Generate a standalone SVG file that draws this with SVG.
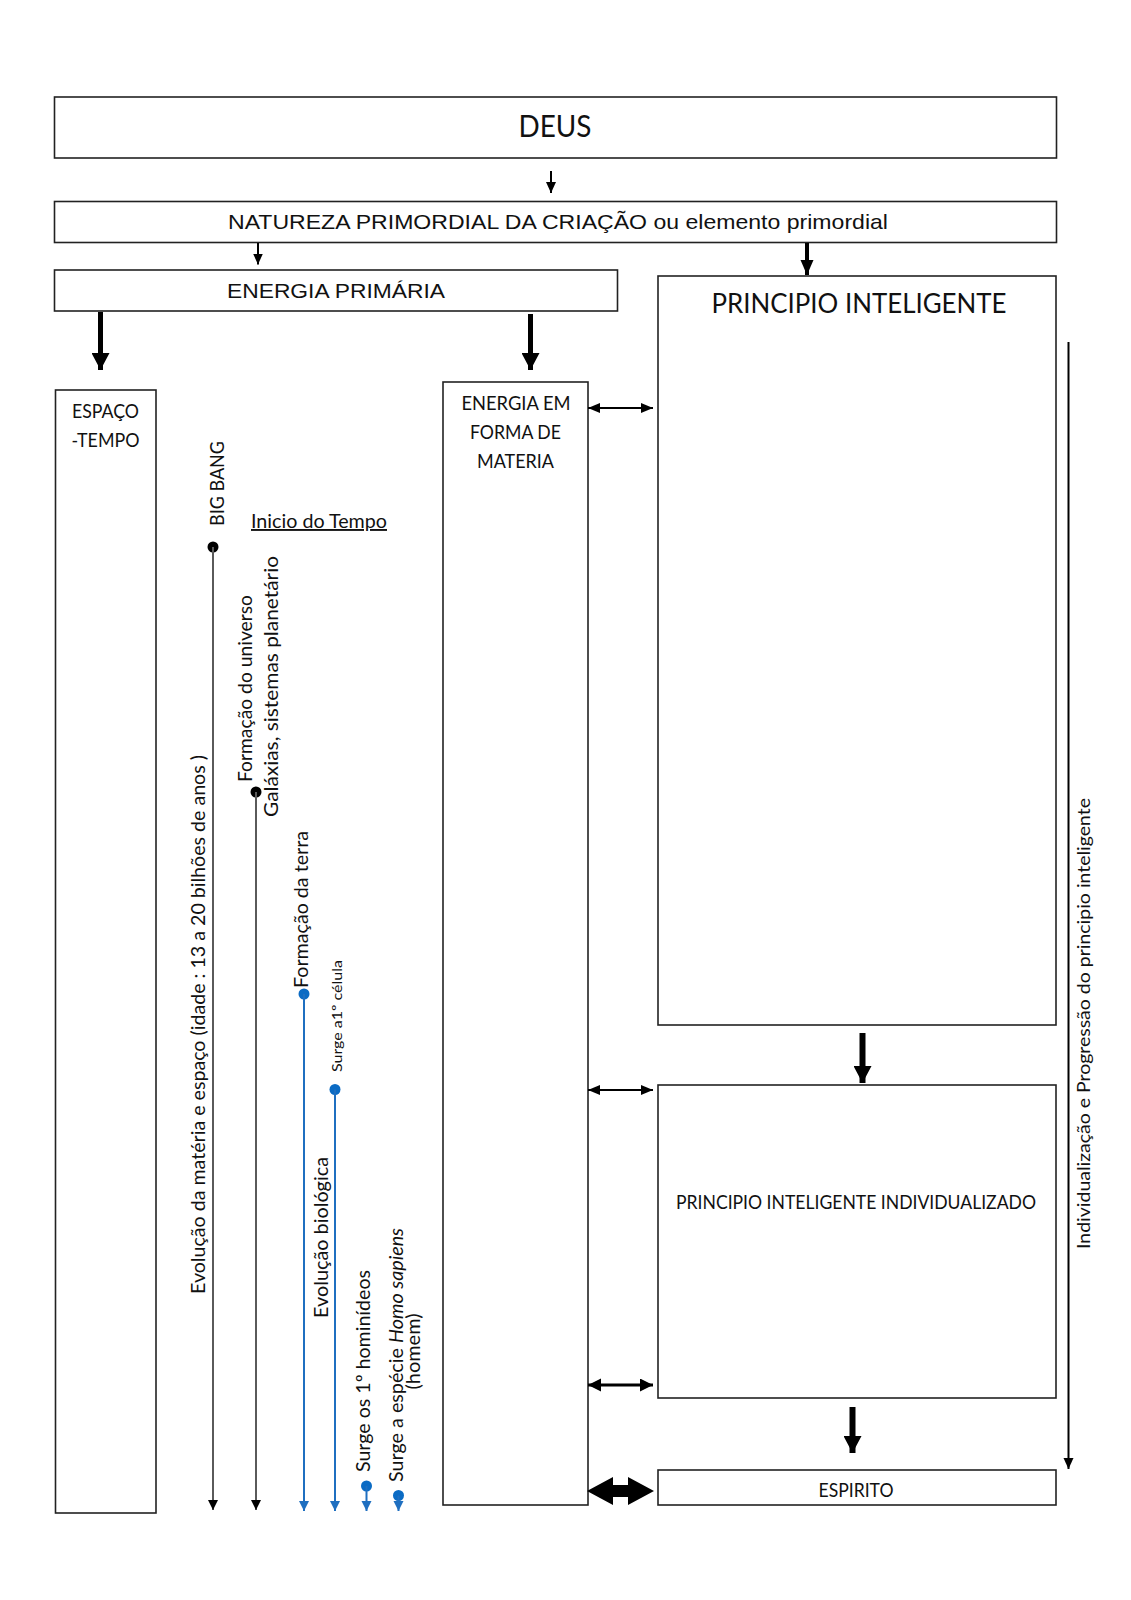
<svg xmlns="http://www.w3.org/2000/svg" width="1131" height="1600" viewBox="0 0 1131 1600">
<style>
.box{fill:#fff;stroke:#222;stroke-width:1.6}
.lato{font-family:Lato,"Open Sans","Liberation Sans",sans-serif;fill:#111}
.arial{font-family:"Liberation Sans",Arial,sans-serif;fill:#111}
.conn{stroke:#000;fill:none}
.tl{stroke:#5a5a5a;stroke-width:2;fill:none}
.tlb{stroke:#1f6fc0;stroke-width:2;fill:none}
.dot{fill:#000}
.dotb{fill:#0b6bc4}
</style>
<defs>
<marker id="hs" markerUnits="userSpaceOnUse" markerWidth="12" markerHeight="12" refX="11" refY="5" orient="auto"><path d="M0,0 L11,5 L0,10 z" fill="#000"/></marker>
<marker id="hm" markerUnits="userSpaceOnUse" markerWidth="16" markerHeight="14" refX="15" refY="6.5" orient="auto"><path d="M0,0 L15,6.5 L0,13 z" fill="#000"/></marker>
<marker id="hl" markerUnits="userSpaceOnUse" markerWidth="18" markerHeight="18" refX="17" refY="9" orient="auto"><path d="M0,0 L17,9 L0,18 z" fill="#000"/></marker>
<marker id="hd" markerUnits="userSpaceOnUse" markerWidth="13" markerHeight="11" refX="12" refY="5" orient="auto-start-reverse"><path d="M0,0 L12,5 L0,10 z" fill="#000"/></marker>
<marker id="hd2" markerUnits="userSpaceOnUse" markerWidth="14" markerHeight="14" refX="13" refY="6.5" orient="auto-start-reverse"><path d="M0,0 L13,6.5 L0,13 z" fill="#000"/></marker>
<marker id="ht" markerUnits="userSpaceOnUse" markerWidth="11" markerHeight="11" refX="10" refY="5" orient="auto"><path d="M0,0 L10,5 L0,10 z" fill="#000"/></marker>
<marker id="htb" markerUnits="userSpaceOnUse" markerWidth="11" markerHeight="11" refX="10" refY="5" orient="auto"><path d="M0,0 L10,5 L0,10 z" fill="#1f6fc0"/></marker>
</defs>

<g id="deus">
<rect class="box" x="54.5" y="97" width="1002" height="61"/>
<text class="lato" x="555" y="137" font-size="30" text-anchor="middle" textLength="73" lengthAdjust="spacingAndGlyphs">DEUS</text>
</g>

<g id="natureza">
<rect class="box" x="54.5" y="201.5" width="1002" height="41"/>
<text class="arial" x="558" y="228.5" font-size="21" text-anchor="middle" textLength="660" lengthAdjust="spacingAndGlyphs">NATUREZA PRIMORDIAL DA CRIAÇÃO ou elemento primordial</text>
</g>

<g id="energia-primaria">
<rect class="box" x="54.5" y="270" width="563" height="41"/>
<text class="arial" x="336" y="297.5" font-size="20.5" text-anchor="middle" textLength="218" lengthAdjust="spacingAndGlyphs">ENERGIA PRIMÁRIA</text>
</g>

<g id="principio-inteligente">
<rect class="box" x="658" y="276" width="398" height="749"/>
<text class="lato" x="859" y="312.5" font-size="26" text-anchor="middle" textLength="295" lengthAdjust="spacingAndGlyphs">PRINCIPIO INTELIGENTE</text>
</g>

<g id="espaco-tempo">
<rect class="box" x="55.5" y="390" width="100.5" height="1123"/>
<text class="lato" x="105.5" y="418" font-size="19" text-anchor="middle" textLength="67" lengthAdjust="spacingAndGlyphs">ESPAÇO</text>
<text class="lato" x="105.5" y="446.5" font-size="19" text-anchor="middle" textLength="68" lengthAdjust="spacingAndGlyphs">-TEMPO</text>
</g>

<g id="energia-materia">
<rect class="box" x="443" y="382" width="145" height="1123"/>
<text class="lato" x="516" y="410" font-size="19" text-anchor="middle" textLength="109" lengthAdjust="spacingAndGlyphs">ENERGIA EM</text>
<text class="lato" x="515.5" y="439" font-size="19" text-anchor="middle" textLength="91" lengthAdjust="spacingAndGlyphs">FORMA DE</text>
<text class="lato" x="515.5" y="468" font-size="19" text-anchor="middle" textLength="77" lengthAdjust="spacingAndGlyphs">MATERIA</text>
</g>

<g id="principio-individualizado">
<rect class="box" x="658" y="1085" width="398" height="313"/>
<text class="lato" x="856" y="1208.5" font-size="19.5" text-anchor="middle" textLength="360" lengthAdjust="spacingAndGlyphs">PRINCIPIO INTELIGENTE INDIVIDUALIZADO</text>
</g>

<g id="espirito">
<rect class="box" x="658" y="1470" width="398" height="35"/>
<text class="lato" x="856" y="1497" font-size="19" text-anchor="middle" textLength="75" lengthAdjust="spacingAndGlyphs">ESPIRITO</text>
</g>

<g id="timeline">
<circle class="dot" cx="213" cy="547" r="5.5"/>
<circle class="dot" cx="256" cy="792" r="5.5"/>
<circle class="dotb" cx="304" cy="994" r="5.5"/>
<circle class="dotb" cx="335" cy="1089.5" r="5.5"/>
<circle class="dotb" cx="366.5" cy="1486" r="5.5"/>
<circle class="dotb" cx="398.5" cy="1495.5" r="5.5"/>
<text class="lato" font-size="19" transform="translate(224,526) rotate(-90)" textLength="85" lengthAdjust="spacingAndGlyphs">BIG BANG</text>
<text class="lato" x="251" y="528" font-size="19" text-decoration="underline" textLength="136" lengthAdjust="spacingAndGlyphs">Inicio do Tempo</text>
<text class="lato" font-size="19" transform="translate(205,1294) rotate(-90)" textLength="539" lengthAdjust="spacingAndGlyphs">Evolução  da matéria  e espaço (idade :  13 a 20 bilhões de anos )</text>
<text class="lato" font-size="19" transform="translate(252,782) rotate(-90)" textLength="187" lengthAdjust="spacingAndGlyphs">Formação do universo</text>
<text class="lato" font-size="19" transform="translate(277.5,817) rotate(-90)" textLength="261" lengthAdjust="spacingAndGlyphs">Galáxias,  sistemas  planetário</text>
<text class="lato" font-size="19" transform="translate(308,988) rotate(-90)" textLength="157" lengthAdjust="spacingAndGlyphs">Formação da terra</text>
<text class="lato" font-size="14" transform="translate(342,1072) rotate(-90)" textLength="112" lengthAdjust="spacingAndGlyphs">Surge a1º célula</text>
<text class="lato" font-size="19" transform="translate(328,1318) rotate(-90)" textLength="161" lengthAdjust="spacingAndGlyphs">Evolução  biológica</text>
<text class="lato" font-size="19" transform="translate(370,1472) rotate(-90)" textLength="202" lengthAdjust="spacingAndGlyphs">Surge os  1º hominídeos</text>
<text class="lato" font-size="19" transform="translate(403,1482) rotate(-90)" textLength="254" lengthAdjust="spacingAndGlyphs">Surge a espécie <tspan font-style="italic">Homo sapiens</tspan></text>
<text class="lato" font-size="19" transform="translate(420,1351.5) rotate(-90)" text-anchor="middle" textLength="76" lengthAdjust="spacingAndGlyphs">(homem)</text>
<text class="lato" font-size="18" transform="translate(1090,1249) rotate(-90)" textLength="451" lengthAdjust="spacingAndGlyphs">Individualização e Progressão do principio inteligente</text>
</g>

<g id="connectors">
<line class="conn" x1="551" y1="171" x2="551" y2="193" stroke-width="2" marker-end="url(#hs)"/>
<line class="conn" x1="258" y1="243" x2="258" y2="264.5" stroke-width="2" marker-end="url(#hs)"/>
<line class="conn" x1="807" y1="243" x2="807" y2="275" stroke-width="4" marker-end="url(#hm)"/>
<line class="conn" x1="100.5" y1="312" x2="100.5" y2="370" stroke-width="5" marker-end="url(#hl)"/>
<line class="conn" x1="530.5" y1="314" x2="530.5" y2="370" stroke-width="5" marker-end="url(#hl)"/>
<line class="conn" x1="862.5" y1="1033" x2="862.5" y2="1083" stroke-width="6" marker-end="url(#hl)"/>
<line class="conn" x1="852.5" y1="1407" x2="852.5" y2="1453" stroke-width="6" marker-end="url(#hl)"/>
<line class="conn" x1="588" y1="408" x2="653" y2="408" stroke-width="2" marker-start="url(#hd)" marker-end="url(#hd)"/>
<line class="conn" x1="588" y1="1090" x2="653" y2="1090" stroke-width="2" marker-start="url(#hd)" marker-end="url(#hd)"/>
<line class="conn" x1="588" y1="1385" x2="653" y2="1385" stroke-width="3" marker-start="url(#hd2)" marker-end="url(#hd2)"/>
<polygon fill="#000" points="587,1491 613,1477 613,1485 628,1485 628,1477 654,1491 628,1505 628,1497 613,1497 613,1505"/>
<line class="conn" x1="1068.5" y1="342" x2="1068.5" y2="1469" stroke-width="2" marker-end="url(#hs)"/>
<line class="tl" x1="213" y1="547" x2="213" y2="1510" marker-end="url(#ht)"/>
<line class="tl" x1="256" y1="792" x2="256" y2="1510" marker-end="url(#ht)"/>
<line class="tlb" x1="304" y1="994" x2="304" y2="1511" marker-end="url(#htb)"/>
<line class="tlb" x1="335" y1="1089.5" x2="335" y2="1511" marker-end="url(#htb)"/>
<line class="tlb" x1="366.5" y1="1486" x2="366.5" y2="1511" marker-end="url(#htb)"/>
<line class="tlb" x1="398.5" y1="1495.5" x2="398.5" y2="1511" marker-end="url(#htb)"/>
</g>
</svg>
